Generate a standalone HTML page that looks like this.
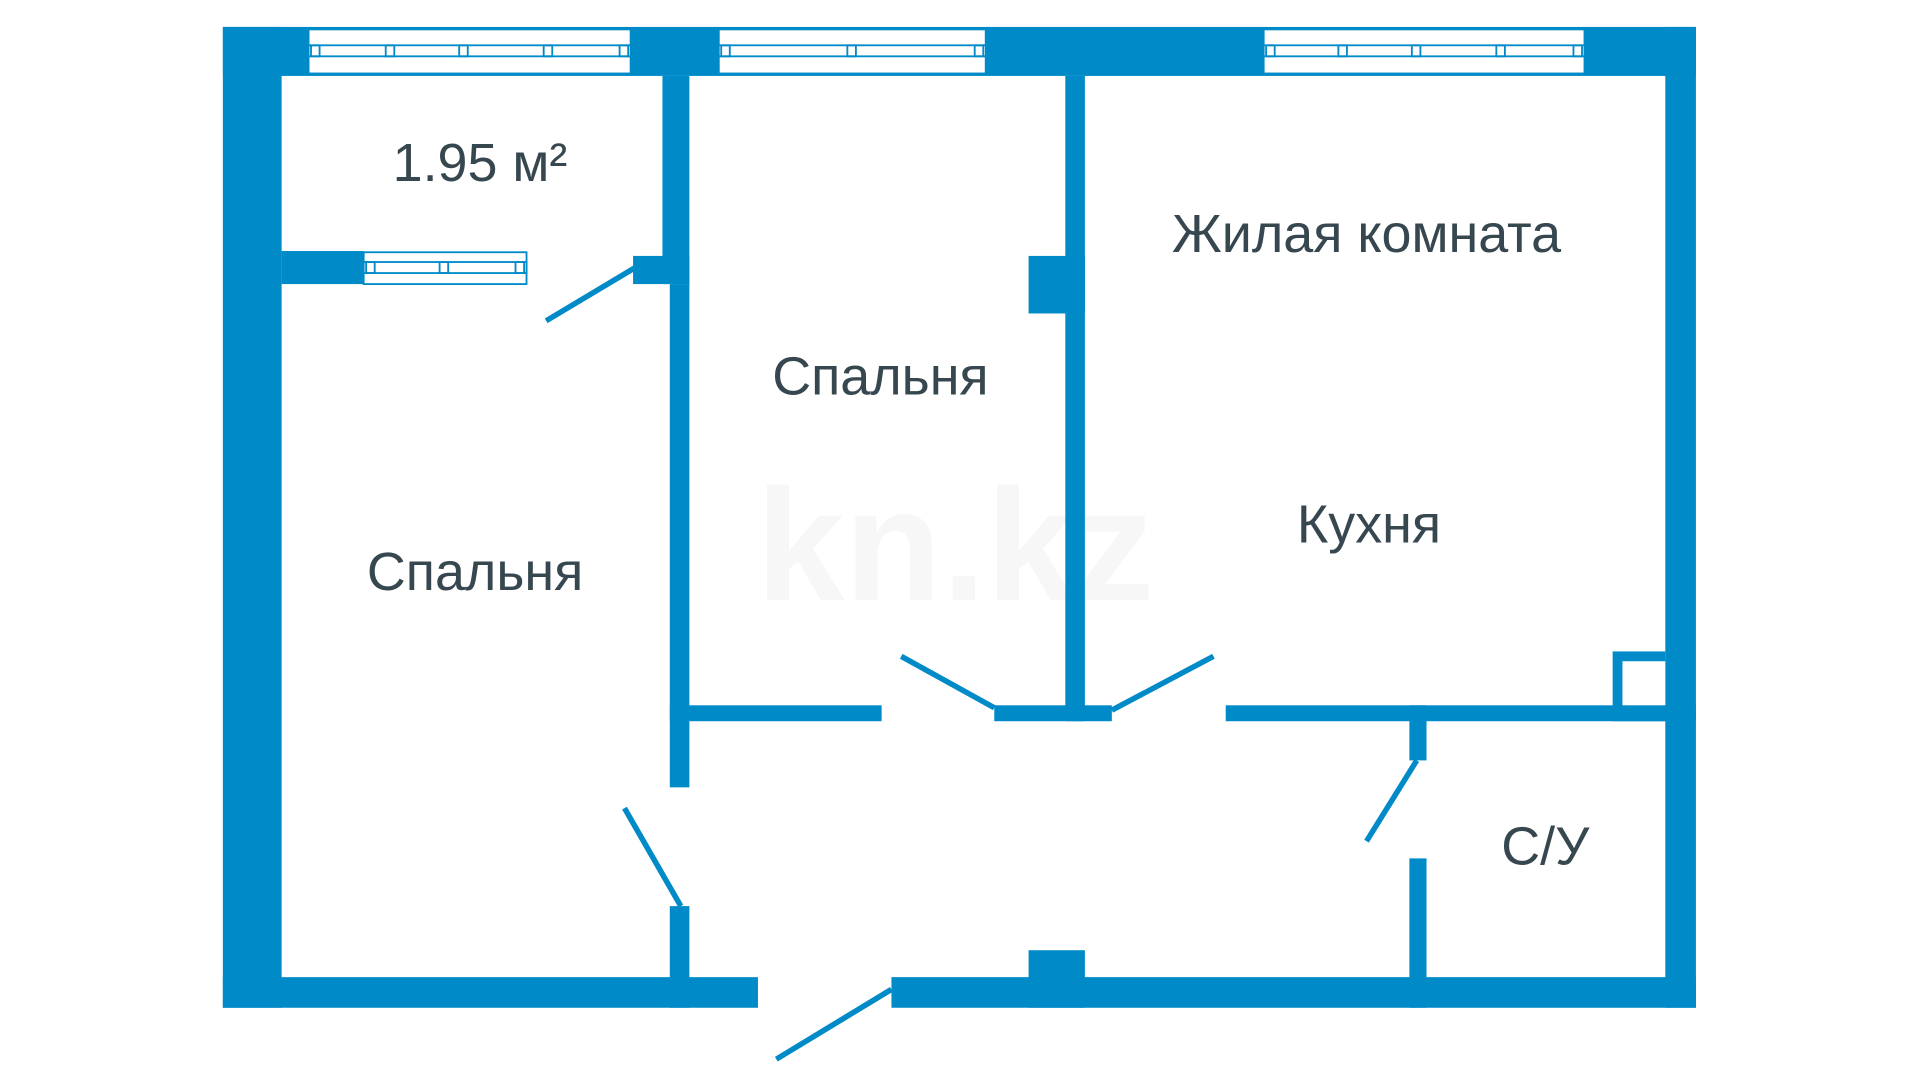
<!DOCTYPE html>
<html><head><meta charset="utf-8"><style>html,body{margin:0;padding:0;background:#fff;width:1920px;height:1080px;overflow:hidden}svg{display:block}</style></head>
<body>
<svg width="1920" height="1080" viewBox="0 0 1568 882" xmlns="http://www.w3.org/2000/svg">
<text x="780" y="490" font-family="Liberation Sans, sans-serif" font-size="130" font-weight="bold" fill="#f7f7f7" text-anchor="middle">kn.kz</text>
<g fill="#008bc8">
<rect x="182" y="22" width="48" height="801"/>
<rect x="182" y="22" width="1203" height="40"/>
<rect x="1360" y="22" width="25" height="801"/>
<rect x="182" y="798" width="437" height="25"/>
<rect x="728" y="798" width="657" height="25"/>
<rect x="840" y="776" width="46" height="47"/>
<rect x="230" y="205" width="67" height="27"/>
<rect x="541" y="62" width="22" height="170"/>
<rect x="517" y="209" width="46" height="23"/>
<rect x="547" y="232" width="16" height="411"/>
<rect x="547" y="740" width="16" height="83"/>
<rect x="870" y="62" width="16" height="527"/>
<rect x="840" y="209" width="46" height="47"/>
<rect x="547" y="576" width="173" height="13"/>
<rect x="812" y="576" width="96" height="13"/>
<rect x="1001" y="576" width="384" height="13"/>
<rect x="1317" y="532" width="43" height="57"/>
<rect x="1151" y="576" width="14" height="45"/>
<rect x="1151" y="701" width="14" height="122"/>
</g>
<rect x="1325" y="540" width="35" height="36" fill="#fff"/>
<g fill="#fff" stroke="#008bc8" stroke-width="1.5">
<rect x="252" y="24" width="263" height="36"/>
<rect x="252" y="37" width="263" height="9"/>
<rect x="587" y="24" width="218" height="36"/>
<rect x="587" y="37" width="218" height="9"/>
<rect x="1032" y="24" width="262" height="36"/>
<rect x="1032" y="37" width="262" height="9"/>
<rect x="297" y="206" width="133" height="26"/>
<rect x="297" y="214" width="133" height="9"/>
</g>
<g fill="none" stroke="#008bc8" stroke-width="1.5">
<path d="M254 37h7v9h-7zM315 37h7v9h-7zM375 37h7v9h-7zM444 37h7v9h-7zM506 37h7v9h-7z"/>
<path d="M589 37h7v9h-7zM692 37h7v9h-7zM796 37h7v9h-7z"/>
<path d="M1034 37h7v9h-7zM1093 37h7v9h-7zM1153 37h7v9h-7zM1222 37h7v9h-7zM1285 37h7v9h-7z"/>
<path d="M299 214h7v9h-7zM359 214h7v9h-7zM421 214h7v9h-7z"/>
</g>
<g stroke="#008bc8" stroke-width="4.5" fill="none">
<line x1="518" y1="219" x2="446" y2="262"/>
<line x1="556" y1="740" x2="510" y2="660"/>
<line x1="812" y1="578" x2="736" y2="536"/>
<line x1="908" y1="580" x2="991" y2="536"/>
<line x1="1157" y1="621" x2="1116" y2="687"/>
<line x1="728" y1="808" x2="634" y2="865"/>
</g>
<g font-family="Liberation Sans, 'Noto Sans CJK SC', sans-serif" font-size="44" fill="#37474f" text-anchor="middle">
<text x="392" y="148">1.95 м²</text>
<text x="388" y="482">Спальня</text>
<text x="719" y="322">Спальня</text>
<text x="1116" y="206">Жилая комната</text>
<text x="1118" y="443">Кухня</text>
<text x="1262" y="706">С/У</text>
</g>
</svg>
</body></html>
